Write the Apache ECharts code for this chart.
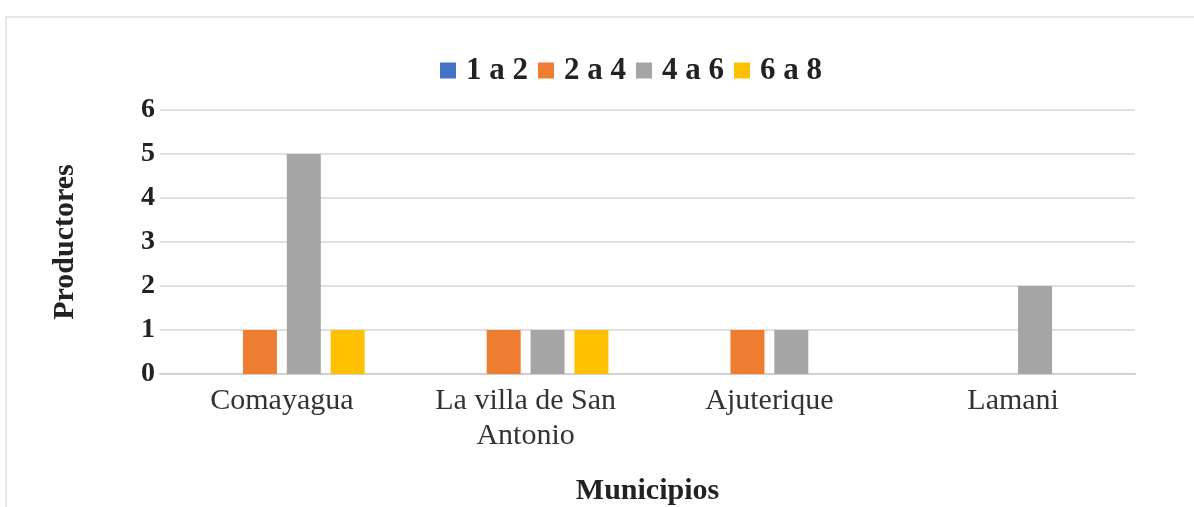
<!DOCTYPE html>
<html><head><meta charset="utf-8">
<script src="https://cdn.jsdelivr.net/npm/echarts@6/dist/echarts.min.js"></script>
<style>html,body{margin:0;padding:0;background:#fff}#c{width:1194px;height:507px}</style>
</head><body><div id="c"></div>
<script>
const categories = ['Comayagua', 'La villa de San\nAntonio', 'Ajuterique', 'Lamani'];
const seriesNames = ['1 a 2', '2 a 4', '4 a 6', '6 a 8'];
const s1a2 = [0, 0, 0, 0];
const s2a4 = [1, 1, 1, 0];
const s4a6 = [5, 1, 1, 2];
const s6a8 = [1, 1, 0, 0];
const colors = ['#4472C4', '#ED7D31', '#A5A5A5', '#FFC000'];
const yTicks = [0, 1, 2, 3, 4, 5, 6];

const chart = echarts.init(document.getElementById('c'));
const data = [s1a2, s2a4, s4a6, s6a8];
const FONT = 'Liberation Serif';
chart.setOption({
  animation: false,
  color: colors,
  graphic: [{type: 'rect', shape: {x: 6, y: 17, width: 1200, height: 500}, style: {fill: 'none', stroke: '#e6e6e6', lineWidth: 2}, silent: true}],
  legend: {
    top: 50, left: 435, itemWidth: 16, itemHeight: 16, itemGap: 10,
    icon: 'rect',
    textStyle: {fontFamily: FONT, fontWeight: 'bold', fontSize: 31, color: '#222', padding: [0, 0, 0, 5]},
    data: seriesNames
  },
  grid: {left: 160, right: 59, top: 110, bottom: 133, outerBoundsMode: 'none', containLabel: false},
  xAxis: {
    type: 'category', data: categories,
    axisLine: {lineStyle: {color: '#d0d0d0', width: 2}},
    axisTick: {show: false},
    axisLabel: {fontFamily: FONT, fontSize: 30, color: '#333', lineHeight: 35, margin: 10},
    name: 'Municipios', nameLocation: 'middle', nameGap: 102,
    nameTextStyle: {fontFamily: FONT, fontWeight: 'bold', fontSize: 30, color: '#222'}
  },
  yAxis: {
    type: 'value', min: 0, max: 6, interval: 1,
    axisLabel: {fontFamily: FONT, fontWeight: 'bold', fontSize: 28, color: '#222', margin: 5,
      formatter: v => yTicks.includes(v) ? String(v) : ''},
    splitLine: {lineStyle: {color: '#e0e0e0', width: 2}},
    axisLine: {show: false}, axisTick: {show: false},
    name: 'Productores', nameLocation: 'middle', nameGap: 80, nameRotate: 90,
    nameTextStyle: {fontFamily: FONT, fontWeight: 'bold', fontSize: 30, color: '#222'}
  },
  series: seriesNames.map((n, i) => ({
    name: n, type: 'bar', data: data[i], barWidth: 34, barGap: '29%',
    itemStyle: {color: colors[i]}
  }))
});
</script></body></html>
